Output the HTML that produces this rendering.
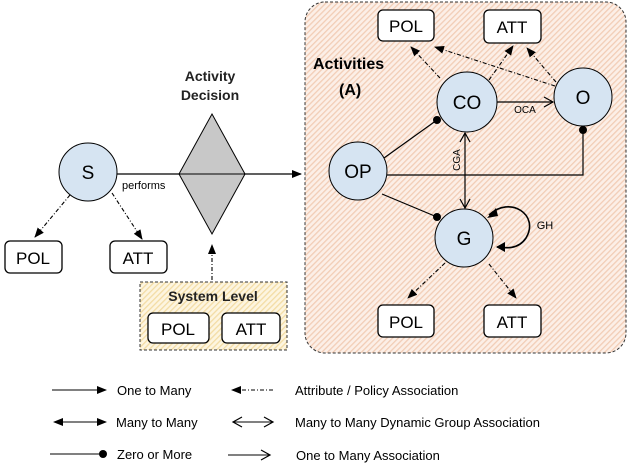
<!DOCTYPE html>
<html><head><style>body{margin:0;background:#fff}svg{display:block}</style></head><body>
<svg width="631" height="466" viewBox="0 0 631 466" xmlns="http://www.w3.org/2000/svg" font-family="Liberation Sans, sans-serif">
<defs>
<pattern id="ph" width="4" height="4" patternUnits="userSpaceOnUse" patternTransform="rotate(45)"><rect width="4" height="4" fill="#fcefe7"/><rect width="1.3" height="4" fill="#f2cdb6"/></pattern>
<pattern id="yh" width="4" height="4" patternUnits="userSpaceOnUse" patternTransform="rotate(45)"><rect width="4" height="4" fill="#fdf5e0"/><rect width="1.3" height="4" fill="#f3dca4"/></pattern>
<marker id="fa" markerWidth="10" markerHeight="8" refX="9" refY="4" orient="auto" markerUnits="userSpaceOnUse"><path d="M0,0 L10,4 L0,8 z" fill="#000"/></marker>
<marker id="oa" markerWidth="12" markerHeight="12" refX="10" refY="6" orient="auto" markerUnits="userSpaceOnUse"><path d="M1,1 L10,6 L1,11" fill="none" stroke="#000" stroke-width="1.2"/></marker>
<marker id="oas" markerWidth="12" markerHeight="12" refX="10" refY="6" orient="auto-start-reverse" markerUnits="userSpaceOnUse"><path d="M1,1 L10,6 L1,11" fill="none" stroke="#000" stroke-width="1.2"/></marker>
<marker id="dot" markerWidth="10" markerHeight="10" refX="5" refY="5" markerUnits="userSpaceOnUse"><circle cx="5" cy="5" r="4" fill="#000"/></marker>
</defs>
<rect x="305" y="2" width="321" height="351" rx="20" fill="url(#ph)" stroke="#333" stroke-dasharray="3,2"/>
<rect x="140" y="282" width="147" height="68" fill="url(#yh)" stroke="#333" stroke-dasharray="3,2"/>
<g fill="none" stroke="#000" stroke-width="1.1" stroke-dasharray="4,2,1,2" marker-end="url(#fa)">
<line x1="440" y1="78" x2="411" y2="47"/><line x1="555" y1="86" x2="435" y2="47"/>
<line x1="489" y1="80" x2="513" y2="46"/><line x1="556" y1="82" x2="527" y2="48"/>
<line x1="445" y1="263" x2="408" y2="298"/><line x1="489" y1="264" x2="516" y2="298"/>
<line x1="70" y1="195" x2="35" y2="237"/><line x1="112" y1="193" x2="142" y2="239"/>
<line x1="212" y1="280" x2="212" y2="245"/>
</g>
<g stroke="#000" stroke-width="1.2" fill="none">
<line x1="117" y1="174" x2="301" y2="174" marker-end="url(#fa)"/>
<line x1="384" y1="158" x2="437" y2="120" marker-end="url(#dot)"/>
<polyline points="387,175 583,175 583,130" marker-end="url(#dot)"/>
<line x1="382" y1="194" x2="437" y2="217" marker-end="url(#dot)"/>
<line x1="497" y1="102" x2="553" y2="102" marker-end="url(#oa)"/>
<line x1="465" y1="133" x2="465" y2="208" marker-start="url(#oas)" marker-end="url(#oa)"/>
<path d="M489,215 C510,195 540,215 526,238 C518,250 505,248 497,247" stroke-width="1.6"/>
</g>
<path d="M487,218 L496,208 L498,216 z" fill="#000"/>
<path d="M496,247 L505,242 L505,252 z" fill="#000"/>
<polygon points="212,114 245,174 212,234 179,174" fill="#c8c8c8" stroke="#000"/>
<line x1="179" y1="174" x2="245" y2="174" stroke="#000"/>
<g fill="#d6e4f2" stroke="#000">
<circle cx="88" cy="172" r="29"/><circle cx="467" cy="102" r="30"/><circle cx="583" cy="97" r="29"/>
<circle cx="358" cy="171" r="29"/><circle cx="464" cy="238" r="29"/>
</g>
<g fill="#fff" stroke="#000" stroke-width="1.3">
<rect x="378" y="10" width="56" height="31" rx="5"/><rect x="484" y="10" width="57" height="33" rx="5"/>
<rect x="378" y="305" width="56" height="32" rx="5"/><rect x="484" y="305" width="57" height="32" rx="5"/>
<rect x="5" y="241" width="57" height="32" rx="5"/><rect x="110" y="241" width="57" height="32" rx="5"/>
<rect x="148" y="313" width="61" height="30" rx="5"/><rect x="222" y="313" width="58" height="30" rx="5"/>
</g>
<g font-size="17" text-anchor="middle">
<text x="406" y="32">POL</text><text x="512" y="33">ATT</text>
<text x="406" y="328">POL</text><text x="512" y="328">ATT</text>
<text x="33" y="264">POL</text><text x="138" y="264">ATT</text>
<text x="178" y="335">POL</text><text x="251" y="335">ATT</text>
<text x="88" y="179" font-size="19">S</text><text x="467" y="109" font-size="19">CO</text>
<text x="583" y="104" font-size="19">O</text><text x="358" y="178" font-size="19">OP</text>
<text x="464" y="245" font-size="19">G</text>
</g>
<g font-size="14" font-weight="bold" text-anchor="middle" fill="#222">
<text x="210" y="81">Activity</text><text x="210" y="100">Decision</text>
<text x="213" y="301">System Level</text>
</g>
<text x="313" y="69" font-size="16" font-weight="bold">Activities</text>
<text x="339" y="95" font-size="16" font-weight="bold">(A)</text>
<text x="122" y="189" font-size="11">performs</text>
<text x="525" y="113" font-size="10" text-anchor="middle">OCA</text>
<text x="545" y="229" font-size="11" text-anchor="middle">GH</text>
<text transform="translate(460,160) rotate(-90)" font-size="10" text-anchor="middle">CGA</text>
<g stroke="#000" stroke-width="1.1" fill="none">
<line x1="52" y1="390" x2="106" y2="390" marker-end="url(#fa)"/>
<line x1="273" y1="390" x2="232" y2="390" stroke-dasharray="4,2,1,2" marker-end="url(#fa)"/>
<line x1="55" y1="422" x2="106" y2="422" marker-end="url(#fa)"/>
<line x1="233" y1="422" x2="273" y2="422" marker-start="url(#oas)" marker-end="url(#oa)"/>
<line x1="50" y1="454" x2="103" y2="454" marker-end="url(#dot)"/>
<line x1="228" y1="455" x2="270" y2="455" marker-end="url(#oa)"/>
</g>
<path d="M53,422 L63,418 L63,426 z" fill="#000"/>
<g font-size="13">
<text x="117" y="395">One to Many</text><text x="295" y="395">Attribute / Policy Association</text>
<text x="116" y="427">Many to Many</text><text x="295" y="427">Many to Many Dynamic Group Association</text>
<text x="117" y="459">Zero or More</text><text x="296" y="460">One to Many Association</text>
</g>
</svg>
</body></html>
